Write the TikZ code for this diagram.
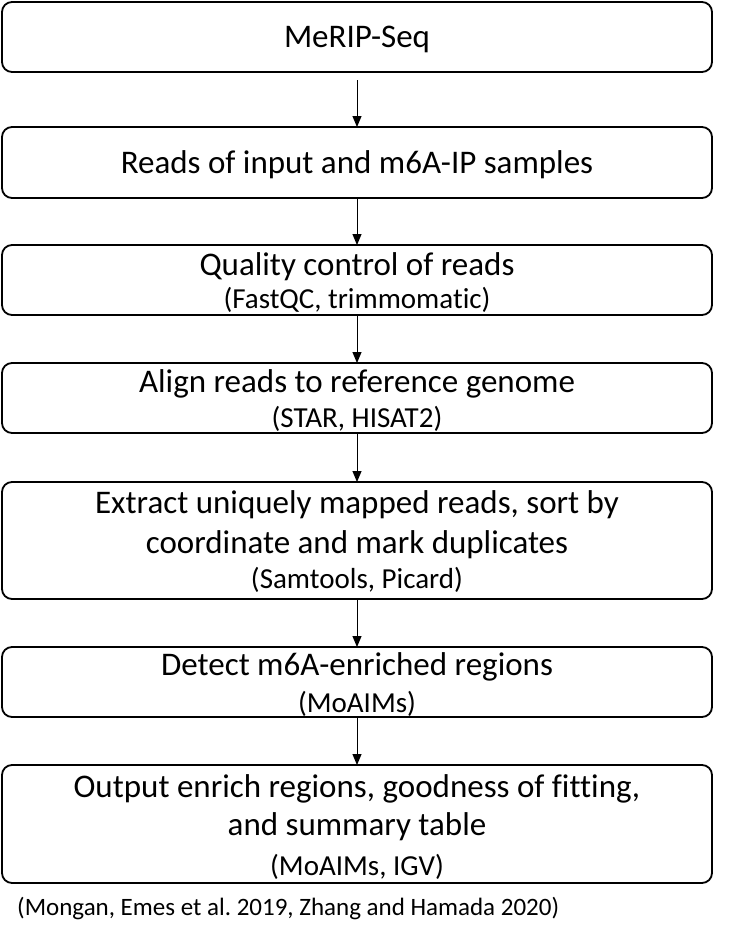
\documentclass[tikz,border=0pt]{standalone}
\usepackage{fontspec}
\setmainfont{Carlito}[Ligatures={NoCommon}]
\usetikzlibrary{arrows.meta}
\frenchspacing
\tikzset{
  box/.style={draw=black, line width=1.8pt, rounded corners=10pt, minimum width=710pt, inner sep=0pt, outer sep=0pt},
  maintxt/.style={anchor=base, inner sep=0pt, font=\fontsize{33}{40}\selectfont},
  subtxt/.style={anchor=base, inner sep=0pt, font=\fontsize{29}{35}\selectfont},
  citetxt/.style={anchor=base west, inner sep=0pt, font=\fontsize{25}{30}\selectfont},
  arr/.style={draw=black, line width=1pt, -{Triangle[length=11pt, width=9pt]}}
}
\begin{document}
\begin{tikzpicture}[x=1pt, y=-1pt]
\useasboundingbox (0,0) rectangle (744,938);
% boxes
\node[box, minimum height=70pt] (b1) at (357,37) {};
\node[box, minimum height=71pt] (b2) at (357,162.5) {};
\node[box, minimum height=70pt] (b3) at (357,280) {};
\node[box, minimum height=70pt] (b4) at (357,398) {};
\node[box, minimum height=117pt] (b5) at (357,540.5) {};
\node[box, minimum height=70pt] (b6) at (357,682) {};
\node[box, minimum height=118pt] (b7) at (357,824) {};
% texts
\node[maintxt] (t1) at (357,47) {MeRIP-Seq};
\node[maintxt] (t2) at (357,173) {Reads of input and m6A-IP samples};
\node[maintxt] (t3a) at (357,275) {Quality control of reads};
\node[subtxt] (t3b) at (357,308) {(FastQC, trimmomatic)};
\node[maintxt] (t4a) at (357,392) {Align reads to reference genome};
\node[subtxt] (t4b) at (357,427) {(STAR, HISAT2)};
\node[maintxt] (t5a) at (357,513) {Extract uniquely mapped reads, sort by};
\node[maintxt] (t5b) at (357,553) {coordinate and mark duplicates};
\node[subtxt] (t5c) at (357,588) {(Samtools, Picard)};
\node[maintxt] (t6a) at (357,675) {Detect m6A-enriched regions};
\node[subtxt] (t6b) at (357,712) {(MoAIMs)};
\node[maintxt] (t7a) at (357,797) {Output enrich regions, goodness of fitting,};
\node[maintxt] (t7b) at (357,835) {and summary table};
\node[subtxt] (t7c) at (357,875) {(MoAIMs, IGV)};
\node[citetxt] (cite) at (17,915) {(Mongan, Emes et al. 2019, Zhang and Hamada 2020)};
% arrows
\coordinate (a1) at (357,80);
\draw[arr] (a1) -- (b2.north);
\draw[arr] (b2.south) -- (b3.north);
\draw[arr] (b3.south) -- (b4.north);
\draw[arr] (b4.south) -- (b5.north);
\draw[arr] (b5.south) -- (b6.north);
\draw[arr] (b6.south) -- (b7.north);
\end{tikzpicture}
\end{document}
